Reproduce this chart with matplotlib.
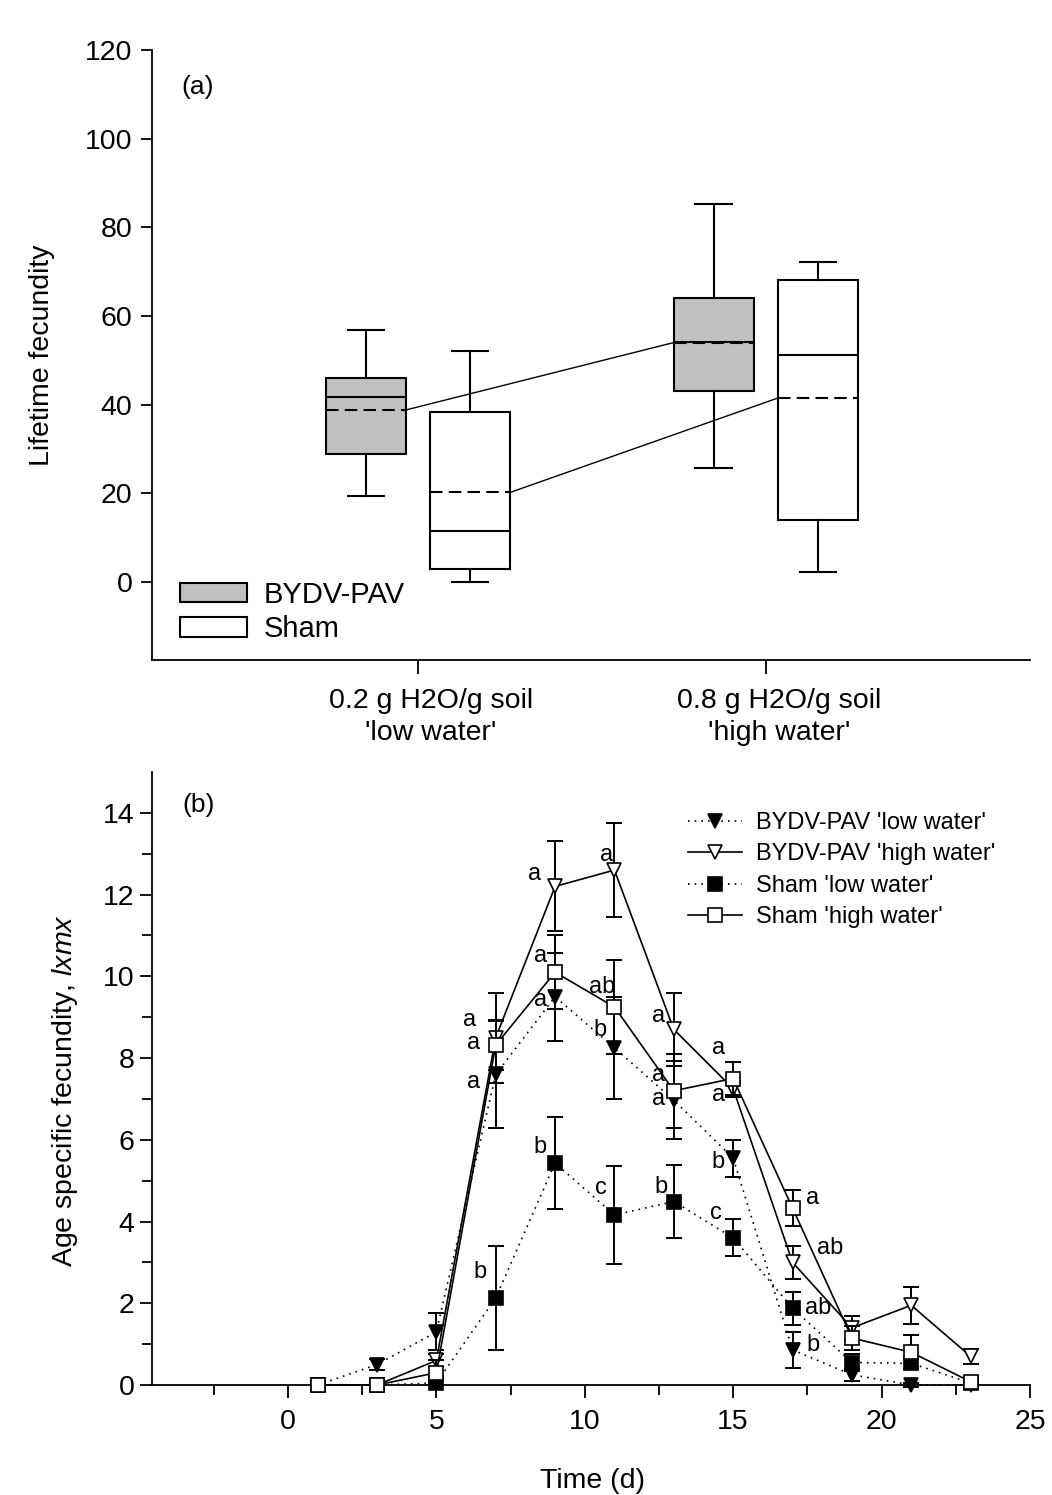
import matplotlib
matplotlib.use("Agg")
import matplotlib.pyplot as plt
from matplotlib.patches import Patch
from matplotlib.transforms import ScaledTranslation

plt.rcParams['font.family'] = ['Liberation Sans', 'DejaVu Sans']
plt.rcParams['mathtext.fontset'] = 'custom'
plt.rcParams['mathtext.it'] = 'Liberation Sans:italic'
plt.rcParams['mathtext.rm'] = 'Liberation Sans'

# ---- panel (a): lifetime fecundity boxes ----
water_labels = ["0.2 g H2O/g soil\n'low water'", "0.8 g H2O/g soil\n'high water'"]
groups = ["BYDV-PAV", "Sham"]
# [low water, high water] for each group
box_whislo = {"BYDV-PAV": [19.4, 25.7], "Sham": [0.1, 2.2]}
box_q1 = {"BYDV-PAV": [28.9, 43.0], "Sham": [2.9, 14.0]}
box_med = {"BYDV-PAV": [41.8, 54.1], "Sham": [11.4, 51.1]}
box_q3 = {"BYDV-PAV": [46.0, 64.0], "Sham": [38.3, 68.2]}
box_whishi = {"BYDV-PAV": [56.9, 85.3], "Sham": [52.2, 72.2]}
box_mean = {"BYDV-PAV": [38.8, 54.0], "Sham": [20.2, 41.5]}
box_colors = {"BYDV-PAV": "#c0c0c0", "Sham": "white"}

# ---- panel (b): age specific fecundity ----
days = [1, 3, 5, 7, 9, 11, 13, 15, 17, 19, 21, 23]
bydv_low = [0, 0.5, 1.3, 7.6, 9.5, 8.25, 6.97, 5.55, 0.86, 0.25, 0, 0]
bydv_low_se = [0, 0.13, 0.45, 1.3, 1.08, 1.25, 0.95, 0.45, 0.44, 0.15, 0.05, 0.05]
bydv_high = [0, 0, 0.6, 8.5, 12.2, 12.6, 8.7, 7.25, 3.0, 1.4, 1.95, 0.7]
bydv_high_se = [0, 0, 0.15, 1.1, 1.1, 1.15, 0.9, 0.2, 0.4, 0.3, 0.45, 0.18]
sham_low = [0, 0, 0.05, 2.13, 5.43, 4.16, 4.49, 3.6, 1.88, 0.55, 0.53, 0.05]
sham_low_se = [0, 0, 0.05, 1.28, 1.13, 1.2, 0.9, 0.45, 0.4, 0.2, 0.15, 0.05]
sham_high = [0, 0, 0.3, 8.32, 10.1, 9.25, 7.2, 7.5, 4.33, 1.15, 0.8, 0.08]
sham_high_se = [0, 0, 0.3, 0.6, 0.9, 1.15, 0.9, 0.4, 0.45, 0.3, 0.42, 0.1]

# significance letters (per day, '' = none)
bydv_low_let = ['', '', '', 'a', 'a', 'b', 'a', 'b', 'b', '', '', '']
bydv_high_let = ['', '', '', 'a', 'a', 'a', 'a', 'a', 'ab', '', '', '']
sham_low_let = ['', '', '', 'b', 'b', 'c', 'b', 'c', 'ab', '', '', '']
sham_high_let = ['', '', '', 'a', 'a', 'ab', 'a', 'a', 'a', '', '', '']

# letter offsets in pixels from the point
bydv_low_off = {7: (-22, -8), 9: (-15, -3), 11: (-14, 18), 13: (-15, 1), 15: (-15, -4), 17: (20, 5)}
bydv_high_off = {7: (-26, 18), 9: (-21, 12), 11: (-8, 15), 13: (-15, 13), 15: (-15, -6), 17: (38, 14)}
sham_low_off = {7: (-16, 26), 9: (-15, 16), 11: (-14, 27), 13: (-13, 15), 15: (-17, 25), 17: (26, 0)}
sham_high_off = {7: (-22, 2), 9: (-15, 16), 11: (-12, 20), 13: (-15, 16), 15: (-15, 30), 17: (20, 10)}

W, H = 1052, 1495
fig = plt.figure(figsize=(W / 100, H / 100), dpi=100)
FS = 20.5

# ================= panel (a) =================
ax1 = fig.add_axes([152 / W, 1 - 660 / H, 878 / W, 610 / H])
offsets = {"BYDV-PAV": -0.15, "Sham": 0.15}
bw = 0.23
for g in groups:
    stats = []
    for i in range(2):
        stats.append(dict(med=box_med[g][i], q1=box_q1[g][i], q3=box_q3[g][i],
                          whislo=box_whislo[g][i], whishi=box_whishi[g][i],
                          mean=box_mean[g][i], fliers=[]))
    pos = [1 + offsets[g], 2 + offsets[g]]
    ax1.bxp(stats, positions=pos, widths=bw, capwidths=0.104, patch_artist=True,
            showmeans=True, meanline=True, manage_ticks=False,
            boxprops=dict(facecolor=box_colors[g], edgecolor='black', linewidth=1.5),
            medianprops=dict(color='black', linewidth=1.5),
            meanprops=dict(color='black', linewidth=1.5, linestyle=(0, (6, 3))),
            whiskerprops=dict(color='black', linewidth=1.5),
            capprops=dict(color='black', linewidth=1.5))
    # line joining the means
    ax1.plot([pos[0] + bw / 2, pos[1] - bw / 2], box_mean[g], color='black', linewidth=1)

ax1.set_xlim(0.235, 2.76)
ax1.set_ylim(-17.6, 120)
ax1.set_yticks(range(0, 121, 20))
ax1.set_xticks([1, 2])
ax1.set_xticklabels(['', ''])
# category labels, sitting a little right of their ticks as in the original
lab_tr = ax1.get_xaxis_transform() + ScaledTranslation(0.13, -0.28, fig.dpi_scale_trans)
for xpos, lab in zip([1, 2], water_labels):
    ax1.text(xpos, 0, lab, transform=lab_tr, ha='center', va='top', fontsize=FS,
             linespacing=1.3, multialignment='center')
ax1.tick_params(axis='y', labelsize=FS, length=8, width=1.3, direction='out', pad=6)
ax1.tick_params(axis='x', length=10, width=1.3, direction='out')
for s in ['top', 'right']:
    ax1.spines[s].set_visible(False)
for s in ['left', 'bottom']:
    ax1.spines[s].set_linewidth(1.3)
ax1.set_ylabel("Lifetime fecundity", fontsize=FS)
ax1.yaxis.set_label_coords(-0.11, 0.5)
ax1.text(0.034, 0.939, "(a)", transform=ax1.transAxes, fontsize=19, va='center')

leg_handles = [Patch(facecolor=box_colors[g], edgecolor='black', linewidth=1.5) for g in groups]
ax1.legend(leg_handles, groups, loc='upper left', bbox_to_anchor=(0.032, 0.13),
           frameon=False, fontsize=21, handlelength=2.3, handleheight=0.65,
           handletextpad=0.55, labelspacing=0.22, borderpad=0, borderaxespad=0)

# ================= panel (b) =================
ax2 = fig.add_axes([152 / W, 1 - 1385 / H, 878 / W, 613 / H])
series = [
    ("BYDV-PAV 'low water'", bydv_low, bydv_low_se, 'v', 'black', (0, (1, 3)), bydv_low_let, bydv_low_off),
    ("BYDV-PAV 'high water'", bydv_high, bydv_high_se, 'v', 'white', '-', bydv_high_let, bydv_high_off),
    ("Sham 'low water'", sham_low, sham_low_se, 's', 'black', (0, (1, 3)), sham_low_let, sham_low_off),
    ("Sham 'high water'", sham_high, sham_high_se, 's', 'white', '-', sham_high_let, sham_high_off),
]
handles = []
for k, (name, vals, se, mk, fc, ls, lets, offs) in enumerate(series):
    eb = ax2.errorbar(days, vals, yerr=se, fmt='none', ecolor='black', elinewidth=1.4,
                      capsize=6, capthick=1.4, zorder=2 + k)
    for art in eb.lines[1] + eb.lines[2]:
        art.set_clip_on(False)
    ln, = ax2.plot(days, vals, linestyle=ls, color='black', linewidth=1.2,
                   marker=mk, markersize=10, markerfacecolor=fc,
                   markeredgecolor='black', markeredgewidth=1.2,
                   clip_on=False, zorder=3 + k, label=name)
    handles.append(ln)
    for d, v, t in zip(days, vals, lets):
        if t:
            ax2.annotate(t, (d, v), xytext=offs[d], textcoords='offset pixels',
                         fontsize=17, ha='center', va='center', zorder=10)

ax2.set_xlim(-4.58, 25)
ax2.set_ylim(0, 15)
ax2.set_xticks(range(0, 26, 5))
ax2.set_xticks([-2.5, 2.5, 7.5, 12.5, 17.5, 22.5], minor=True)
ax2.set_yticks(range(0, 15, 2))
ax2.set_yticks(range(1, 15, 2), minor=True)
ax2.tick_params(axis='both', which='major', labelsize=FS, length=9, width=1.3, direction='out')
ax2.tick_params(axis='both', which='minor', length=7, width=1.3, direction='out')
ax2.tick_params(axis='x', which='major', pad=8)
for s in ['top', 'right']:
    ax2.spines[s].set_visible(False)
for s in ['left', 'bottom']:
    ax2.spines[s].set_linewidth(1.3)
ax2.set_ylabel(r"Age specific fecundity, $lxmx$", fontsize=FS)
ax2.yaxis.set_label_coords(-0.082, 0.481)
ax2.set_xlabel("Time (d)", fontsize=FS)
ax2.xaxis.set_label_coords(0.502, -0.135)
ax2.text(0.035, 0.946, "(b)", transform=ax2.transAxes, fontsize=19, va='center')

ax2.legend(handles=handles, loc='upper left', bbox_to_anchor=((688 - 152) / 878, (1385 - 812) / 613),
           frameon=False, fontsize=17, handlelength=2.3, handletextpad=0.6, labelspacing=0.4,
           borderpad=0, borderaxespad=0, numpoints=1)

fig.savefig("out.png", dpi=100)
